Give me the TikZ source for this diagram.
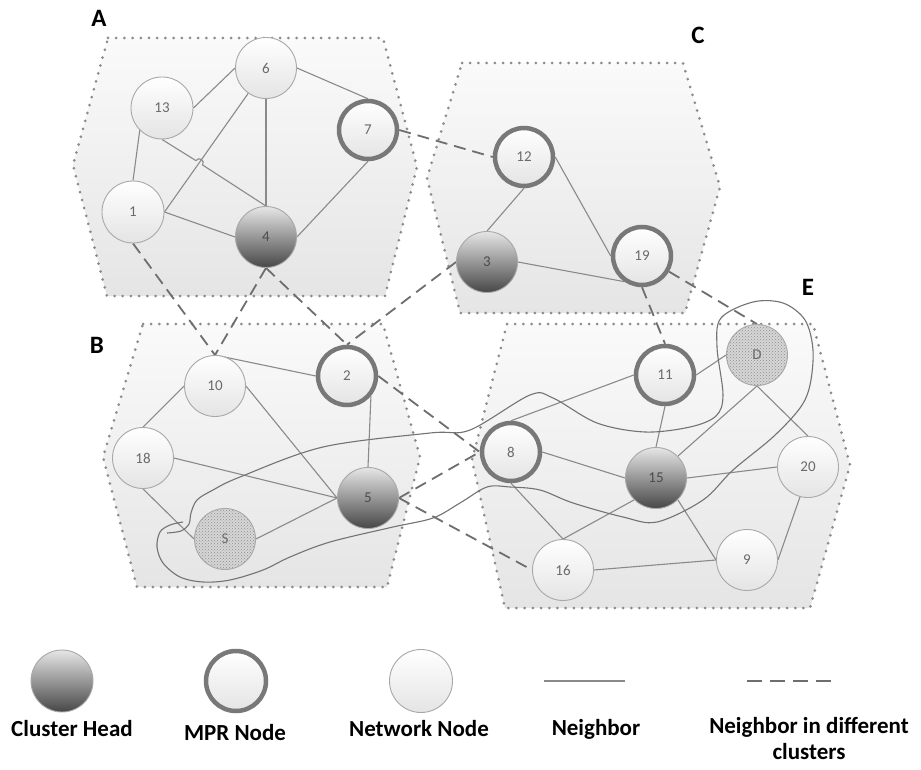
\documentclass[tikz,border=0pt]{standalone}
\usepackage{fontspec}
\setmainfont{Carlito}
\usetikzlibrary{patterns}
\pgfdeclarelayer{regionlayer}
\pgfdeclarelayer{linklayer}
\pgfsetlayers{regionlayer,linklayer,main}
\definecolor{regtop}{HTML}{FAFAFA}
\definecolor{regbot}{HTML}{E5E5E5}
\definecolor{dotcol}{HTML}{8C8C8C}
\definecolor{edgecol}{HTML}{8A8A8A}
\definecolor{dashcol}{HTML}{6E6E6E}
\definecolor{nodeedge}{HTML}{A8A8A8}
\definecolor{nodebot}{HTML}{E4E4E4}
\definecolor{mprring}{HTML}{787878}
\definecolor{chtop}{HTML}{E6E6E6}
\definecolor{chbot}{HTML}{474747}
\definecolor{numcol}{HTML}{6A6A6A}
\definecolor{hatchbg}{HTML}{D6D6D6}
\definecolor{hatchfg}{HTML}{8E8E8E}
\newcommand\numfnt{\fontsize{15}{15}\selectfont}
\newcommand\labfnt{\bfseries\fontsize{25}{25}\selectfont}
\newcommand\legfnt{\bfseries\fontsize{23}{26}\selectfont}
\tikzset{
  netnode/.style={circle, minimum size=61pt, inner sep=0pt, draw=nodeedge, line width=0.9pt,
    top color=white, bottom color=nodebot, font=\numfnt, text=numcol},
  mprnode/.style={netnode, draw=mprring, line width=4.5pt, minimum size=58pt},
  chnode/.style={netnode, top color=chtop, bottom color=chbot, text=black!70},
  srcnode/.style={circle, minimum size=61pt, inner sep=0pt, draw=nodeedge, line width=0.9pt,
    preaction={fill=hatchbg}, pattern=crosshatch dots, pattern color=hatchfg, font=\numfnt, text=numcol},
  nb/.style={draw=edgecol, line width=1.1pt},
  nbd/.style={draw=dashcol, line width=1.8pt, dash pattern=on 12pt off 7pt},
  route/.style={draw=black!55, line width=1.1pt},
  region/.style={draw=dotcol, line width=3pt, line cap=round, dash pattern=on 0pt off 8.2pt,
    top color=regtop, bottom color=regbot},
  clab/.style={font=\labfnt, text=black},
  legtext/.style={font=\legfnt, text=black, align=center},
}
\begin{document}
\begin{tikzpicture}[x=1pt,y=-1pt]
\begin{pgfonlayer}{regionlayer}
\useasboundingbox[fill=white] (0,0) rectangle (921,770);
% cluster regions
\path[region] (108,38) -- (383,38) -- (417,167) -- (385,296) -- (107,296) -- (73,165) -- cycle;
\path[region] (462,63) -- (683,63) -- (720,187) -- (685,313) -- (460,313) -- (427,178) -- cycle;
\path[region] (143,324) -- (383,324) -- (420,457) -- (387,587) -- (137,587) -- (103,457) -- cycle;
\path[region] (507,324) -- (813,324) -- (850,465) -- (810,608) -- (505,608) -- (472,460) -- cycle;
\end{pgfonlayer}

% cluster labels
\node[clab] (labA) at (99,18) {A};
\node[clab] (labC) at (698,35) {C};
\node[clab] (labB) at (97,345) {B};
\node[clab] (labE) at (808,287) {E};

% nodes
\node[netnode] (n6) at (266,68) {6};
\node[netnode, minimum size=62pt] (n13) at (162,108) {13};
\node[mprnode] (n7) at (368,130) {7};
\node[netnode, minimum size=62pt] (n1) at (133,212) {1};
\node[chnode] (n4) at (266,237) {4};
\node[mprnode] (n12) at (524,157) {12};
\node[chnode] (n3) at (487,262) {3};
\node[mprnode] (n19) at (642,256) {19};
\node[netnode] (n10) at (215,386) {10};
\node[mprnode] (n2) at (347,376) {2};
\node[netnode] (n18) at (143,458) {18};
\node[chnode] (n5) at (368,498) {5};
\node[srcnode] (nS) at (225,539) {S};
\node[mprnode] (n11) at (665,375) {11};
\node[srcnode] (nD) at (757,355) {D};
\node[mprnode] (n8) at (511,452) {8};
\node[chnode] (n15) at (656,478) {15};
\node[netnode] (n20) at (808,467) {20};
\node[netnode] (n16) at (563,570) {16};
\node[netnode] (n9) at (747,560) {9};

\begin{pgfonlayer}{linklayer}
% neighbor links
\coordinate (hopA) at (195.9,160.6);
\coordinate (hopB) at (202.6,165.0);
\draw[nb] (n13.east) -- (n6.west);
\draw[nb] (n13.-135) -- (n1.north);
\draw[nb] (n13.south) -- (hopA) .. controls +(2.9,-4.4) and +(2.9,-4.4) .. (hopB) -- (n4.north);
\draw[nb] (n1.east) -- (n6.-125);
\draw[nb] (n6.south) -- (n4.north);
\draw[nb] (n6.east) -- (n7.north);
\draw[nb] (n1.east) -- (n4.west);
\draw[nb] (n7.south) -- (n4.east);
\draw[nb] (n12.south) -- (n3.north);
\draw[nb] (n12.east) -- (n19.west);
\draw[nb] (n3.east) -- (n19.-125);
\draw[nb] (n10.north) -- (n2.west);
\draw[nb] (n10.west) -- (n18.north);
\draw[nb] (n10.east) -- (n5.west);
\draw[nb] (n18.east) -- (n5.west);
\draw[nb] (n18.south) -- (nS.west);
\draw[nb] (nS.east) -- (n5.west);
\draw[nb] (n2.-40) -- (n5.north);
\draw[nb] (n11.east) -- (nD.west);
\draw[nb] (n11.south) -- (n15.north);
\draw[nb] (n8.north) -- (n11.west);
\draw[nb] (n8.east) -- (n15.west);
\draw[nb] (n8.south) -- (n16.north);
\draw[nb] (n15.north east) -- (nD.south);
\draw[nb] (n15.east) -- (n20.west);
\draw[nb] (n15.south west) -- (n16.north);
\draw[nb] (n15.south east) -- (n9.west);
\draw[nb] (n16.east) -- (n9.west);
\draw[nb] (n9.east) -- (n20.-105);
\draw[nb] (nD.south) -- (n20.north);
% links between clusters
\draw[nbd] (n7.east) -- (n12.west);
\draw[nbd] (n1.south) -- (n10.north);
\draw[nbd] (n4.south) -- (n10.north);
\draw[nbd] (n4.south) -- (n2.north);
\draw[nbd] (n3.west) -- (n2.north);
\draw[nbd] (n2.east) -- (n8.west);
\draw[nbd] (n5.east) -- (n8.west);
\draw[nbd] (n5.east) -- (n16.west);
\draw[nbd] (n19.south) -- (n11.north);
\draw[nbd] (n19.-30) -- (nD.north);
% route from S to D and back
\draw[route] plot[smooth, tension=0.55] coordinates {
  (167,533) (181,531) (189,524) (191,513) (197,500) (213,490) (240,477) (323,447) (430,433)
  (470,430) (530,395) (553,398) (597,423) (645,432) (690,427) (716,416) (723,395)
  (717,347) (721,318) (753,302) (783,303) (805,320) (813,350) (810,385) (800,408)
  (773,437) (733,470) (703,500) (657,522) (623,517) (573,503) (540,490) (510,487)
  (487,487) (460,503) (433,518) (393,527) (330,542) (290,557) (263,570) (230,580)
  (203,582) (180,577) (163,563) (157,547) (160,532) (170,525) (183,522)};
\end{pgfonlayer}

% legend
\node[chnode, minimum size=62pt] (lch) at (62,681) {};
\node[mprnode, minimum size=60pt] (lmpr) at (236,681) {};
\node[netnode, minimum size=63pt] (lnet) at (421,681) {};
\coordinate (lnA) at (544,681);
\coordinate (lnB) at (625,681);
\coordinate (ldA) at (747,681);
\coordinate (ldB) at (831,681);
\draw[draw=edgecol, line width=2pt] (lnA) -- (lnB);
\draw[draw=dashcol, line width=2.2pt, dash pattern=on 15pt off 8pt] (ldA) -- (ldB);
\node[legtext] (tch) at (72,729) {Cluster Head};
\node[legtext] (tmpr) at (235,733) {MPR Node};
\node[legtext] (tnet) at (419,729) {Network Node};
\node[legtext] (tnb) at (596,729) {Neighbor};
\node[legtext] (tnbd) at (809,738) {Neighbor in different\\clusters};
\end{tikzpicture}
\end{document}
